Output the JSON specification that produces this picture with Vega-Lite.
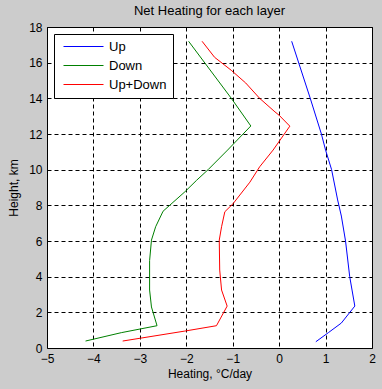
{
  "$schema": "https://vega.github.io/schema/vega-lite/v6.json",
  "width": 325,
  "height": 321,
  "autosize": {"type": "none"},
  "padding": {"left": 47, "top": 27, "right": 10, "bottom": 41},
  "background": "#cccccc",
  "title": {"text": "Net Heating for each layer", "fontSize": 13, "fontWeight": "normal", "font": "Liberation Sans", "color": "#000000", "offset": 3},
  "data": {"values": [
    {"s": "Up", "i": 0, "x": 0.27, "y": 17.2},
    {"s": "Up", "i": 1, "x": 0.67, "y": 14.0},
    {"s": "Up", "i": 2, "x": 0.91, "y": 12.0},
    {"s": "Up", "i": 3, "x": 1.0, "y": 11.1},
    {"s": "Up", "i": 4, "x": 1.13, "y": 10.0},
    {"s": "Up", "i": 5, "x": 1.26, "y": 8.3},
    {"s": "Up", "i": 6, "x": 1.34, "y": 7.4},
    {"s": "Up", "i": 7, "x": 1.43, "y": 6.0},
    {"s": "Up", "i": 8, "x": 1.52, "y": 4.0},
    {"s": "Up", "i": 9, "x": 1.57, "y": 3.25},
    {"s": "Up", "i": 10, "x": 1.63, "y": 2.35},
    {"s": "Up", "i": 11, "x": 1.34, "y": 1.4},
    {"s": "Up", "i": 12, "x": 1.06, "y": 0.86},
    {"s": "Up", "i": 13, "x": 0.79, "y": 0.35},
    {"s": "Down", "i": 0, "x": -1.95, "y": 17.2},
    {"s": "Down", "i": 1, "x": -1.03, "y": 14.0},
    {"s": "Down", "i": 2, "x": -0.61, "y": 12.45},
    {"s": "Down", "i": 3, "x": -1.11, "y": 11.1},
    {"s": "Down", "i": 4, "x": -1.53, "y": 10.0},
    {"s": "Down", "i": 5, "x": -1.78, "y": 9.4},
    {"s": "Down", "i": 6, "x": -2.03, "y": 8.76},
    {"s": "Down", "i": 7, "x": -2.5, "y": 7.67},
    {"s": "Down", "i": 8, "x": -2.66, "y": 6.8},
    {"s": "Down", "i": 9, "x": -2.75, "y": 6.05},
    {"s": "Down", "i": 10, "x": -2.79, "y": 4.9},
    {"s": "Down", "i": 11, "x": -2.79, "y": 3.25},
    {"s": "Down", "i": 12, "x": -2.75, "y": 2.3},
    {"s": "Down", "i": 13, "x": -2.63, "y": 1.25},
    {"s": "Down", "i": 14, "x": -3.4, "y": 0.86},
    {"s": "Down", "i": 15, "x": -4.17, "y": 0.39},
    {"s": "Up+Down", "i": 0, "x": -1.66, "y": 17.2},
    {"s": "Up+Down", "i": 1, "x": -1.39, "y": 16.3},
    {"s": "Up+Down", "i": 2, "x": -1.03, "y": 15.57},
    {"s": "Up+Down", "i": 3, "x": -0.72, "y": 14.86},
    {"s": "Up+Down", "i": 4, "x": -0.42, "y": 14.0},
    {"s": "Up+Down", "i": 5, "x": -0.09, "y": 13.24},
    {"s": "Up+Down", "i": 6, "x": 0.0, "y": 13.05},
    {"s": "Up+Down", "i": 7, "x": 0.23, "y": 12.44},
    {"s": "Up+Down", "i": 8, "x": -0.13, "y": 11.1},
    {"s": "Up+Down", "i": 9, "x": -0.42, "y": 10.16},
    {"s": "Up+Down", "i": 10, "x": -0.63, "y": 9.3},
    {"s": "Up+Down", "i": 11, "x": -0.99, "y": 8.1},
    {"s": "Up+Down", "i": 12, "x": -1.17, "y": 7.64},
    {"s": "Up+Down", "i": 13, "x": -1.24, "y": 6.8},
    {"s": "Up+Down", "i": 14, "x": -1.29, "y": 6.05},
    {"s": "Up+Down", "i": 15, "x": -1.28, "y": 4.37},
    {"s": "Up+Down", "i": 16, "x": -1.24, "y": 3.25},
    {"s": "Up+Down", "i": 17, "x": -1.12, "y": 2.35},
    {"s": "Up+Down", "i": 18, "x": -1.35, "y": 1.25},
    {"s": "Up+Down", "i": 19, "x": -2.03, "y": 0.95},
    {"s": "Up+Down", "i": 20, "x": -3.37, "y": 0.39}
  ]},
  "mark": {"type": "line", "strokeWidth": 1},
  "encoding": {
    "x": {"field": "x", "type": "quantitative",
      "scale": {"domain": [-5, 2], "nice": false, "zero": false},
      "axis": {"title": "Heating, °C/day", "values": [-5,-4,-3,-2,-1,0,1,2], "titlePadding": 4}},
    "y": {"field": "y", "type": "quantitative",
      "scale": {"domain": [0, 18], "nice": false},
      "axis": {"title": "Height, km", "values": [0,2,4,6,8,10,12,14,16,18], "titlePadding": 8}},
    "order": {"field": "i", "type": "quantitative"},
    "color": {"field": "s", "type": "nominal",
      "scale": {"domain": ["Up", "Down", "Up+Down"], "range": ["#0000ff", "#008000", "#ff0000"]},
      "legend": {"title": null, "orient": "none", "legendX": 7, "legendY": 7,
        "symbolType": "M-0.6,0H7.4", "symbolSize": 100, "symbolStrokeWidth": 1,
        "labelFontSize": 13, "labelFont": "Liberation Sans", "labelColor": "#000000",
        "fillColor": "#ffffff", "strokeColor": "#000000", "padding": 6, "rowPadding": 5, "cornerRadius": 0, "labelOffset": 36}}
  },
  "config": {
    "view": {"fill": "#ffffff", "stroke": "#000000", "strokeWidth": 1},
    "axis": {
      "labelFont": "Liberation Sans", "labelFontSize": 12, "labelColor": "#000000",
      "titleFont": "Liberation Sans", "titleFontSize": 12, "titleFontWeight": "normal", "titleColor": "#000000",
      "grid": true, "gridColor": "#000000", "gridOpacity": 1, "gridDash": [4, 3], "gridWidth": 1,
      "domain": false, "ticks": false, "labelPadding": 5, "labelFlush": false, "labelOverlap": false
    }
  }
}
